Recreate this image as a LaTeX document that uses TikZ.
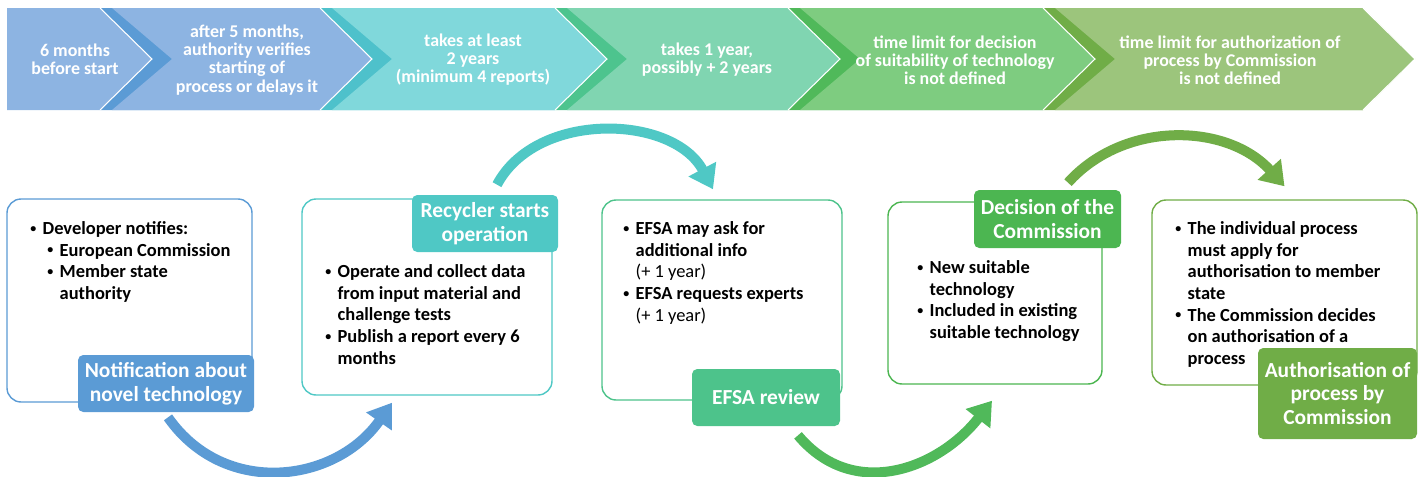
\documentclass[tikz,border=0pt]{standalone}
\usepackage{fontspec}
\usepackage{graphicx}
\setmainfont{Carlito}
\usetikzlibrary{arrows.meta}

\definecolor{blueDark}{HTML}{5B9BD5}
\definecolor{blueLight}{HTML}{8DB4E2}
\definecolor{tealDark}{HTML}{4EC1CB}
\definecolor{tealLight}{HTML}{80D8DB}
\definecolor{mintDark}{HTML}{4DC48E}
\definecolor{mintLight}{HTML}{80D5B1}
\definecolor{greenDark}{HTML}{50B95A}
\definecolor{greenLight}{HTML}{7ECC80}
\definecolor{oliveDark}{HTML}{70AD47}
\definecolor{oliveLight}{HTML}{9CC57C}
\definecolor{tealLabel}{HTML}{4FC8C5}
\definecolor{mintLabel}{HTML}{4DC38B}
\definecolor{greenLabel}{HTML}{4CB651}

\newcommand{\bItem}{\makebox[7pt][l]{\raisebox{.25ex}{\scalebox{.65}{\textbullet}}}}
\newcommand{\bGap}{\hspace*{7pt}}

\begin{document}
\begin{tikzpicture}[chevText/.style={text=white, font=\fontsize{10.2}{10.3}\selectfont\bfseries, align=center},
	bodyText/.style={anchor=north west, inner sep=0pt, align=left, font=\fontsize{10.5}{12.35}\selectfont\bfseries},
	panel/.style={draw=#1, line width=.8pt, rounded corners=8pt, fill=white},
	tag/.style={fill=#1, rounded corners=3pt, text=white, align=center, inner sep=0pt, font=\fontsize{12.2}{13.5}\selectfont\bfseries},
	flow/.style={draw=#1, line width=5.7pt, -{Triangle[width=17pt, length=13pt]}}]
	\useasboundingbox (0,0) rectangle (28.48,-9.52);
	% chevron band, drawn right to left so every tip lies on the next segment
	\foreach \p/\r/\dk/\lt in {20.86/27.26/oliveDark/oliveLight, 15.76/20.86/greenDark/greenLight, 11.1/15.76/mintDark/mintLight, 6.4/11.1/tealDark/tealLight, 2.0/6.4/blueDark/blueLight}{
		\fill[\dk] (\p,-.16) -- (\r,-.16) -- (\r+1.04,-1.18) -- (\r,-2.2) -- (\p,-2.2) -- (\p+1.04,-1.18) -- cycle;
		\fill[\lt] (\p+.24,-.16) -- (\r,-.16) -- (\r+1.04,-1.18) -- (\r,-2.2) -- (\p+.24,-2.2) -- (\p+1.44,-1.18) -- cycle;
		\draw[white, line width=.6pt] (\r,-.16) -- (\r+1.04,-1.18) -- (\r,-2.2);
	}
	\fill[blueLight] (.14,-.16) -- (2,-.16) -- (3.04,-1.18) -- (2,-2.2) -- (.14,-2.2) -- cycle;
	\draw[white, line width=.6pt] (2,-.16) -- (3.04,-1.18) -- (2,-2.2);
	\node[chevText] (monthsText) at (1.5,-1.18) {6 months\\before start};
	\node[chevText] (verifyText) at (4.94,-1.2) {after 5 months,\\authority verifies\\starting of\\process or delays it};
	\node[chevText] (reportsText) at (9.46,-1.2) {takes at least\\2 years\\(minimum 4 reports)};
	\node[chevText] (reviewText) at (14.14,-1.19) {takes 1 year,\\possibly + 2 years};
	\node[chevText] (decisionText) at (19.1,-1.2) {time limit for decision\\of suitability of technology\\is not defined};
	\node[chevText] (authText) at (24.6,-1.2) {time limit for authorization of\\process by Commission\\is not defined};

	% step panels
	\node[panel=blueDark, minimum width=4.9cm, minimum height=4.06cm] (notifBox) at (2.59,-6.01) {};
	\node[panel=tealLabel, minimum width=5cm, minimum height=3.92cm] (recyclerBox) at (8.54,-5.94) {};
	\node[panel=mintLabel, minimum width=4.8cm, minimum height=4cm] (efsaBox) at (14.44,-6) {};
	\node[panel=greenLabel, minimum width=4.28cm, minimum height=3.64cm] (decisionBox) at (19.9,-5.86) {};
	\node[panel=oliveDark, minimum width=5.3cm, minimum height=3.7cm] (authBox) at (25.69,-5.85) {};

	\node[bodyText] (notifText) at (.6,-4.42) {\bItem Developer notifies:\\
		\hspace*{9.7pt}\bItem European Commission\\
		\hspace*{9.7pt}\bItem Member state\\
		\hspace*{9.7pt}\bGap authority};
	\node[bodyText] (recyclerText) at (6.5,-5.28) {\bItem Operate and collect data\\
		\bGap from input material and\\
		\bGap challenge tests\\
		\bItem Publish a report every 6\\
		\bGap months};
	\node[bodyText] (efsaText) at (12.46,-4.42) {\bItem EFSA may ask for\\
		\bGap additional info\\
		\bGap\mdseries(+ 1 year)\\
		\bItem EFSA requests experts\\
		\bGap\mdseries(+ 1 year)};
	\node[bodyText] (decisionBody) at (18.34,-5.2) {\bItem New suitable\\
		\bGap technology\\
		\bItem Included in existing\\
		\bGap suitable technology};
	\node[bodyText] (authBody) at (23.5,-4.42) {\bItem The individual process\\
		\bGap must apply for\\
		\bGap authorisation to member\\
		\bGap state\\
		\bItem The Commission decides\\
		\bGap on authorisation of a\\
		\bGap process};

	% titles sitting on the panel frames
	\node[tag=blueDark, minimum width=3.52cm, minimum height=1.14cm] (notifLabel) at (3.32,-7.67) {Notification about\\novel technology};
	\node[tag=tealLabel, minimum width=2.92cm, minimum height=1.14cm] (recyclerLabel) at (9.7,-4.47) {Recycler starts\\operation};
	\node[tag=mintLabel, minimum width=2.96cm, minimum height=1.14cm] (efsaLabel) at (15.32,-7.95) {EFSA review};
	\node[tag=greenLabel, minimum width=2.94cm, minimum height=1.16cm] (decisionLabel) at (20.95,-4.38) {Decision of the\\Commission};
	\node[tag=oliveDark, minimum width=3.18cm, minimum height=1.82cm] (authLabel) at (26.75,-7.87) {Authorisation of\\process by\\Commission};

	% curved arrows between the steps
	\draw[flow=blueDark] ([xshift=.04cm,yshift=-.1cm]notifLabel.south) to[out=-55,in=-125,looseness=1.12] ([xshift=-.7cm,yshift=-.14cm]recyclerBox.south);
	\draw[flow=tealLabel] ([xshift=.24cm,yshift=.2cm]recyclerLabel.north) to[out=62,in=118] ([xshift=-.18cm,yshift=.2cm]efsaBox.north);
	\draw[flow=greenDark] ([xshift=.64cm,yshift=-.18cm]efsaLabel.south) to[out=-50,in=-128,looseness=1.12] ([xshift=-.06cm,yshift=-.32cm]decisionBox.south);
	\draw[flow=oliveDark] ([xshift=.41cm,yshift=.14cm]decisionLabel.north) to[out=48,in=132] ([yshift=.26cm]authBox.north);
\end{tikzpicture}
\end{document}
